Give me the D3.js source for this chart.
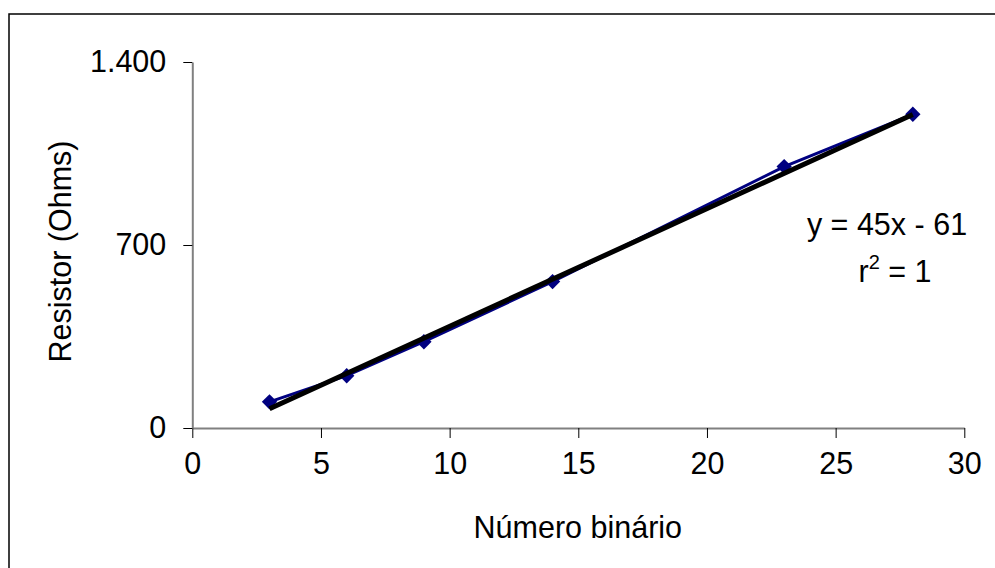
<!DOCTYPE html>
<html>
<head>
<meta charset="utf-8">
<script src="https://cdn.jsdelivr.net/npm/d3@7"></script>
<style>
  html, body { margin: 0; padding: 0; background: #fff; }
  svg { display: block; }
  text { font-family: "Liberation Sans", Arial, sans-serif; fill: #000; }
</style>
</head>
<body>
<svg id="chart" width="995" height="568"></svg>
<script>
// Measured binary codes and the resistor chosen for each
const binaryNumbers = [3, 6, 9, 14, 23, 28];
const resistances = [100, 200, 330, 560, 1000, 1200];

// Linear fit shown on the chart
const fitSlope = 45;
const fitIntercept = -61;
const fitLabel = "y = 45x - 61";

const xTicks = [0, 5, 10, 15, 20, 25, 30];
const yTicks = [0, 700, 1400];
const yTickLabels = ["0", "700", "1.400"];

const xTitle = "Número binário";
const yTitle = "Resistor (Ohms)";

const svg = d3.select("#chart");
const W = 995, H = 568;

// outer frame (runs off the right and bottom edges)
svg.append("rect")
  .attr("x", 9).attr("y", 14)
  .attr("width", W).attr("height", H)
  .attr("fill", "none").attr("stroke", "#000").attr("stroke-width", 1.5);

const x = d3.scaleLinear().domain([0, 30]).range([192.3, 964.3]);
const y = d3.scaleLinear().domain([0, 1400]).range([428, 62]);

const fontSize = 30.5;

// x axis
const xAxis = svg.append("g").attr("transform", `translate(0,${y(0)})`)
  .call(d3.axisBottom(x).tickValues(xTicks).tickFormat(d3.format("d"))
    .tickSize(10).tickSizeOuter(0).tickPadding(14));
xAxis.select(".domain").attr("stroke", "#808080").attr("stroke-width", 2);
xAxis.selectAll(".tick line").attr("stroke", "#000").attr("stroke-width", 1);
xAxis.selectAll(".tick text")
  .attr("font-family", "Liberation Sans, Arial, sans-serif")
  .attr("font-size", fontSize).attr("fill", "#000");

// y axis
const yAxis = svg.append("g").attr("transform", `translate(${x(0)},0)`)
  .call(d3.axisLeft(y).tickValues(yTicks).tickFormat((d, i) => yTickLabels[i])
    .tickSize(9).tickSizeOuter(0).tickPadding(17));
yAxis.select(".domain").attr("stroke", "#808080").attr("stroke-width", 2);
yAxis.selectAll(".tick line").attr("stroke", "#000").attr("stroke-width", 1);
yAxis.selectAll(".tick text")
  .attr("font-family", "Liberation Sans, Arial, sans-serif")
  .attr("font-size", fontSize).attr("fill", "#000");

// data series
const pts = binaryNumbers.map((b, i) => ({ b, r: resistances[i] }));
svg.append("path")
  .datum(pts)
  .attr("fill", "none").attr("stroke", "#000080").attr("stroke-width", 3)
  .attr("d", d3.line().x(d => x(d.b)).y(d => y(d.r)));

svg.selectAll(".marker").data(pts).enter().append("path")
  .attr("class", "marker")
  .attr("transform", d => `translate(${x(d.b)},${y(d.r)})`)
  .attr("d", d3.symbol().type(d3.symbolDiamond2).size(150))
  .attr("fill", "#000080");

// trend line
const [xMin, xMax] = d3.extent(binaryNumbers);
svg.append("line")
  .attr("x1", x(xMin)).attr("y1", y(fitSlope * xMin + fitIntercept))
  .attr("x2", x(xMax)).attr("y2", y(fitSlope * xMax + fitIntercept))
  .attr("stroke", "#000").attr("stroke-width", 5).attr("stroke-linecap", "butt");

// equation label
svg.append("text")
  .attr("x", 887).attr("y", 235)
  .attr("text-anchor", "middle").attr("font-size", fontSize)
  .text(fitLabel);

const r2 = svg.append("text")
  .attr("x", 895).attr("y", 282)
  .attr("text-anchor", "middle").attr("font-size", fontSize);
r2.append("tspan").text("r");
r2.append("tspan").attr("dy", -13).attr("font-size", 20).text("2");
r2.append("tspan").attr("dy", 13).text(" = 1");

// axis titles
svg.append("text")
  .attr("x", (x(0) + x(30)) / 2 - 0.5).attr("y", 538)
  .attr("text-anchor", "middle").attr("font-size", fontSize)
  .text(xTitle);

svg.append("text")
  .attr("transform", "translate(71,251.5) rotate(-90)")
  .attr("text-anchor", "middle").attr("font-size", fontSize)
  .text(yTitle);
</script>
</body>
</html>
